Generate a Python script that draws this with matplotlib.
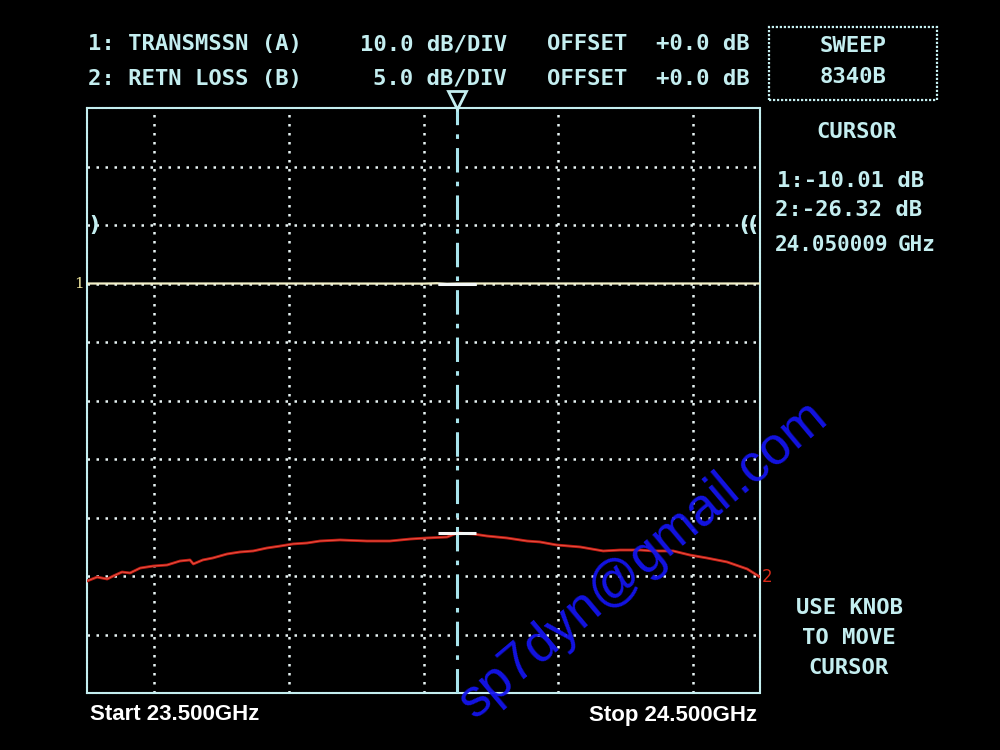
import matplotlib
matplotlib.use("Agg")
import matplotlib.pyplot as plt
from matplotlib.patches import Rectangle

start_ghz, stop_ghz = 23.5, 24.5
cursor_ghz = 24.050009
ref_div = 8          # reference position, divisions from bottom
scale_a = 10.0       # dB/div, transmission
scale_b = 5.0        # dB/div, return loss

trans_freq = [23.500, 23.800, 24.000, 24.020, 24.035, 24.050, 24.080, 24.500]
trans_db = [-10.00, -10.00, -10.02, -9.96, -10.05, -10.01, -10.00, -10.00]

retn_freq = [23.500, 23.515, 23.530, 23.539, 23.552, 23.564, 23.579, 23.598,
             23.619, 23.638, 23.653, 23.658, 23.672, 23.687, 23.708, 23.727,
             23.747, 23.767, 23.787, 23.806, 23.827, 23.846, 23.876, 23.916,
             23.950, 23.980, 24.005, 24.035, 24.050, 24.074, 24.094, 24.124,
             24.154, 24.173, 24.198, 24.233, 24.267, 24.292, 24.322, 24.341,
             24.371, 24.396, 24.421, 24.451, 24.481, 24.500]
retn_db = [-30.43, -30.09, -30.26, -30.00, -29.66, -29.74, -29.32, -29.15,
           -29.06, -28.72, -28.63, -28.97, -28.63, -28.46, -28.12, -27.95,
           -27.86, -27.61, -27.44, -27.26, -27.18, -27.01, -26.92, -27.01,
           -27.01, -26.84, -26.75, -26.67, -26.32, -26.41, -26.58, -26.75,
           -27.01, -27.09, -27.35, -27.52, -27.86, -27.78, -27.78, -27.86,
           -27.86, -28.21, -28.46, -28.80, -29.40, -30.09]

header_left = ["1: TRANSMSSN (A)", "2: RETN LOSS (B)"]
header_scale = ["10.0 dB/DIV", "5.0 dB/DIV"]
header_offset = ["+0.0 dB", "+0.0 dB"]
cursor_lines = ["1:-10.01 dB", "2:-26.32 dB"]
help_lines = ["USE KNOB", "TO MOVE", "CURSOR"]

CYAN = "#c4eef0"
GRID = "#e8f4f4"


def to_div(db, scale):
    return [ref_div + v / scale for v in db]


def px(x, y):
    return x / 1000, 1 - y / 750


fig = plt.figure(figsize=(10, 7.5), dpi=100, facecolor="black")
ax = fig.add_axes([0.087, 1 - 693 / 750, 0.673, 585 / 750], facecolor="black")
ax.set_xlim(start_ghz, stop_ghz)
ax.set_ylim(0, 10)

# graticule
ax.set_xticks([23.6, 23.8, 24.0, 24.2, 24.4])
ax.set_yticks(range(1, 10))
ax.tick_params(length=0, labelbottom=False, labelleft=False)
ax.grid(True, color=GRID, linestyle=(0, (1, 2.6)), linewidth=1.8)
for s in ax.spines.values():
    s.set_color(CYAN)
    s.set_linestyle((0, (0.8, 0.8)))
    s.set_linewidth(1.5)

# traces
ax.plot(trans_freq, to_div(trans_db, scale_a), color="#f2f0c8", lw=1.6, zorder=3)
ax.plot(retn_freq, to_div(retn_db, scale_b), color="#c41e14", lw=2.0, zorder=3)
ax.plot(retn_freq, to_div(retn_db, scale_b), color="#f06050", lw=0.5, zorder=3)

# cursor
ax.axvline(cursor_ghz, color="#a8e4ec", lw=2.2, linestyle=(0, (8, 3, 1.5, 3)), zorder=4)
ax.plot([cursor_ghz] * 2, [to_div([trans_db[5]], scale_a)[0], to_div([retn_db[28]], scale_b)[0]],
        ls="none", marker="_", ms=28, mew=2.2, color="#f4f8f8", zorder=5)
ax.plot([cursor_ghz], [10.14], marker="v", ms=13, mfc="black", mec=CYAN, mew=2,
        clip_on=False, zorder=6)

# reference markers and trace labels
ax.text(start_ghz + 0.003, ref_div, ")", color=CYAN, fontsize=15, va="center", ha="left",
        fontweight="bold")
ax.text(stop_ghz - 0.002, ref_div, "((", color=CYAN, fontsize=15, va="center", ha="right",
        fontweight="bold")
ax.text(start_ghz - 0.004, to_div([trans_db[0]], scale_a)[0], "1", color="#f0e8a0",
        fontsize=11, va="center", ha="right", family="DejaVu Serif")
ax.text(stop_ghz + 0.003, to_div([retn_db[-1]], scale_b)[0], "2", color="#d82818",
        fontsize=12, va="center", ha="left")

mono = dict(family="DejaVu Sans Mono", fontweight="bold", color=CYAN, fontsize=16,
            va="center")
for i, yy in enumerate([44, 79]):
    fig.text(*px(88, yy), header_left[i], ha="left", **mono)
    fig.text(*px(507, yy), header_scale[i], ha="right", **mono)
    fig.text(*px(547, yy), "OFFSET", ha="left", **mono)
    fig.text(*px(750, yy), header_offset[i], ha="right", **mono)

fig.patches.append(Rectangle(px(769, 100), 168 / 1000, 73 / 750, transform=fig.transFigure,
                             fill=False, ec=CYAN, lw=1.6, ls=(0, (1, 0.8))))
fig.text(*px(853, 46), "SWEEP", ha="center", **mono)
fig.text(*px(853, 77), "8340B", ha="center", **mono)

fig.text(*px(857, 132), "CURSOR", ha="center", **mono)
fig.text(*px(777, 181), cursor_lines[0], ha="left", **mono)
fig.text(*px(775, 210), cursor_lines[1], ha="left", **mono)
fig.text(*px(775, 245), f"{cursor_ghz:.6f}", ha="left", **dict(mono, fontsize=15))
fig.text(*px(936, 245), "GHz", ha="right", **dict(mono, fontsize=15))
for i, line in enumerate(help_lines):
    fig.text(*px(849, 608 + i * 30), line, ha="center", **mono)

sans = dict(family="Liberation Sans", fontweight="bold", color="white", fontsize=16,
            va="center")
fig.text(*px(90, 714), f"Start {start_ghz:.3f}GHz", ha="left", **sans)
fig.text(*px(757, 716), f"Stop {stop_ghz:.3f}GHz", ha="right", **sans)

# watermark
fig.text(*px(643, 560), "sp7dyn@gmail.com", color="#1414ee", fontsize=38,
         family="Liberation Sans", rotation=40, ha="center", va="center", alpha=0.95,
         rotation_mode="anchor", zorder=10)

fig.savefig("out.png", dpi=100, facecolor="black")
